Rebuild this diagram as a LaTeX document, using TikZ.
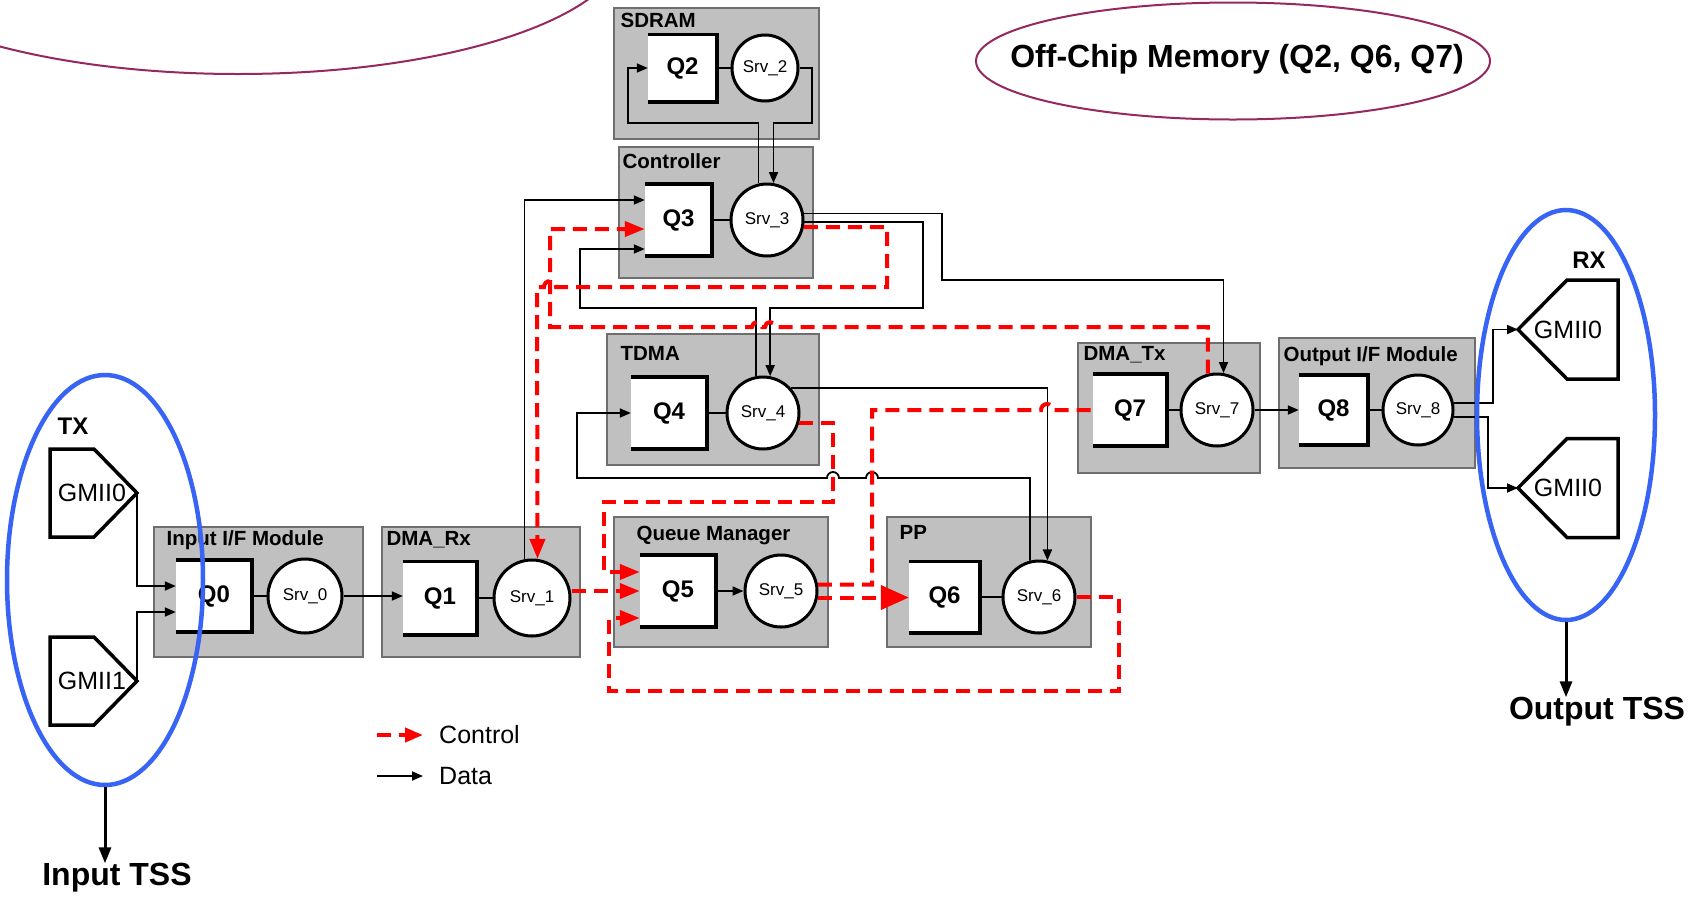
\documentclass[tikz,border=0pt]{standalone}
\usepackage{fontspec}
\setmainfont{Liberation Sans}
\usetikzlibrary{arrows.meta, shapes.geometric, positioning, fit, calc}
\definecolor{zmod}{RGB}{192, 192, 192}
\definecolor{zedge}{RGB}{110, 110, 110}
\definecolor{zctrl}{RGB}{255, 0, 0}
\definecolor{ztss}{RGB}{55, 100, 245}
\definecolor{zmem}{RGB}{150, 40, 95}

\begin{document}
\begin{tikzpicture}[x=1pt, y=-1pt,
  every node/.style={inner sep=0pt},
  module/.style={rectangle, draw=zedge, fill=zmod, line width=1.2pt},
  mlbl/.style={anchor=north west, font=\fontsize{20.5}{24}\selectfont\bfseries},
  queue/.style={rectangle, fill=white, font=\fontsize{24}{28}\selectfont\bfseries},
  qedge/.style={line width=3.6pt},
  server/.style={circle, draw, fill=white, line width=3pt,
                 font=\fontsize{17}{20}\selectfont},
  portedge/.style={draw, fill=white, line width=3.5pt, line join=miter},
  port/.style={font=\fontsize{25}{30}\selectfont},
  link/.style={line width=1.8pt},
  data/.style={line width=1.8pt, -{Triangle[length=11pt, width=9pt]}},
  ctrl/.style={zctrl, line width=4pt, dash pattern=on 14pt off 8pt,
               -{Triangle[length=20pt, width=15pt]}},
  tss/.style={ellipse, draw=ztss, line width=4.5pt},
  tssarr/.style={line width=3pt, -{Triangle[length=16pt, width=12pt]}},
  biglbl/.style={font=\fontsize{32}{38}\selectfont\bfseries},
  portlbl/.style={font=\fontsize{24}{28}\selectfont\bfseries},
  legend/.style={anchor=west, font=\fontsize{25}{30}\selectfont}
]

\fill[white] (0,0) rectangle (1700,898);
\useasboundingbox (0,0) rectangle (1700,898);

% Memory marks
\begin{scope}
  \clip (0,0) rectangle (1700,898);
  \draw[zmem, line width=2pt] (238,-56) ellipse [x radius=387pt, y radius=130pt];
\end{scope}
\node[ellipse, draw=zmem, line width=2pt, minimum width=514, minimum height=117] (offchip) at (1233,61) {};
\node[biglbl] (offchiplbl) at (1237,59) {Off-Chip Memory (Q2, Q6, Q7)};

% Modules
\node[module, fit={(614,8) (819,139)}] (sdram) {};
\node[module, fit={(619,147) (813,278)}] (ctl) {};
\node[module, fit={(607,334) (819,465)}] (tdma) {};
\node[module, fit={(1078,343) (1260,473)}] (dmatx) {};
\node[module, fit={(1279,338) (1475,468)}] (outif) {};
\node[module, fit={(887,517) (1091,647)}] (pp) {};
\node[module, fit={(614,517) (828,647)}] (qm) {};
\node[module, fit={(382,527) (580,657)}] (dmarx) {};
\node[module, fit={(154,527) (363,657)}] (inif) {};

\node[mlbl] (sdramlbl) at ($(sdram.north west)+(7,6)$) {SDRAM};
\node[mlbl] (ctllbl)   at ($(ctl.north west)+(4,7)$) {Controller};
\node[mlbl] (tdmalbl)  at ($(tdma.north west)+(14,13)$) {TDMA};
\node[mlbl] (dmatxlbl) at ($(dmatx.north west)+(6,4)$) {DMA\_Tx};
\node[mlbl] (outiflbl) at ($(outif.north west)+(5,9)$) {Output I/F Module};
\node[mlbl] (pplbl)    at ($(pp.north west)+(13,9)$) {PP};
\node[mlbl] (qmlbl)    at ($(qm.north west)+(23,10)$) {Queue Manager};
\node[mlbl] (dmarxlbl) at ($(dmarx.north west)+(5,4.5)$) {DMA\_Rx};
\node[mlbl] (iniflbl)  at ($(inif.north west)+(13,4.5)$) {Input I/F Module};

% Queues
\node[queue, minimum width=76, minimum height=72] (q0) at (214,596) {Q0};
\node[queue, minimum width=74, minimum height=73] (q1) at (440,598) {Q1};
\node[queue, minimum width=69, minimum height=67] (q2) at (682.5,68) {Q2};
\node[queue, minimum width=67, minimum height=72] (q3) at (678.5,220) {Q3};
\node[queue, minimum width=76, minimum height=72] (q4) at (669,413) {Q4};
\node[queue, minimum width=76, minimum height=72] (q5) at (678,591) {Q5};
\node[queue, minimum width=71, minimum height=71] (q6) at (944.5,597) {Q6};
\node[queue, minimum width=74, minimum height=72] (q7) at (1130,410) {Q7};
\node[queue, minimum width=69, minimum height=70] (q8) at (1333.5,410) {Q8};
\foreach \q in {q0,q1,q2,q3,q4,q5,q6,q7,q8}
  \draw[qedge] (\q.north west) -| (\q.south east) -- (\q.south west);

% Servers
\node[server, minimum size=74] (s0) at (305,596) {Srv\_0};
\node[server, minimum size=76] (s1) at (532,598) {Srv\_1};
\node[server, minimum size=66] (s2) at (765,68) {Srv\_2};
\node[server, minimum size=72] (s3) at (767,220) {Srv\_3};
\node[server, minimum size=72] (s4) at (763,413) {Srv\_4};
\node[server, minimum size=72] (s5) at (781,591) {Srv\_5};
\node[server, minimum size=72] (s6) at (1039,597) {Srv\_6};
\node[server, minimum size=72] (s7) at (1217,410) {Srv\_7};
\node[server, minimum size=70] (s8) at (1418,410) {Srv\_8};

% Ports
\path[portedge] (50,449) -- (94,449) -- (137,493) coordinate (tx0tip) -- (94,537) -- (50,537) -- cycle;
\path[portedge] (50,637) -- (94,637) -- (137,681) coordinate (tx1tip) -- (94,725) -- (50,725) -- cycle;
\path[portedge] (1618,280) -- (1567,280) -- (1518,329.5) coordinate (rx0tip) -- (1567,379) -- (1618,379) -- cycle;
\path[portedge] (1618,438.5) -- (1567,438.5) -- (1518,488) coordinate (rx1tip) -- (1567,537.5) -- (1618,537.5) -- cycle;
\node[port] (tx0) at (92,493) {GMII0};
\node[port] (tx1) at (92,681) {GMII1};
\node[port] (rx0) at (1568,329.5) {GMII0};
\node[port] (rx1) at (1568,488) {GMII0};
\node[portlbl] (txlbl) at (73,426) {TX};
\node[portlbl] (rxlbl) at (1589,260) {RX};

% Data paths
\draw[data] (tx0tip) |- ($(q0.west)+(0,-10)$);
\draw[data] (tx1tip) |- ($(q0.west)+(0,16)$);
\draw[link] (q0) -- (s0);
\draw[data] (s0.east) -- (s0.east -| q1.west);
\draw[link] (q1) -- (s1);
\draw[data] (s1.101) |- ($(q3.west)+(0,-20)$);
\draw[link] (q2) -- (s2);
\draw[data] (s2.east) -| (812,123) -| (s3.80);
\draw[data] (s3.103) |- (628,123) |- (q2.west);
\draw[link] (q3) -- (s3);
\draw[data] (s3.10) -| (942,280) -| (s7.80);
\draw[data] (s3.-3) -| (923,308) -| (s4.79);
\draw[link] (q4) -- (s4);
\draw[data] (s4.101) |- (580,308) |- ($(q3.west)+(0,29)$);
\draw[data] (s4.42) -| (s6.77);
\draw[data] (s6.104) |- (878,478) arc[start angle=0, end angle=180, radius=6pt]
  -- (839,478) arc[start angle=0, end angle=180, radius=6pt]
  -- (577,478) |- (q4.west);
\draw[data] (q5) -- (s5);
\draw[link] (q6) -- (s6);
\draw[link] (q7) -- (s7);
\draw[data] (s7) -- (q8);
\draw[link] (q8) -- (s8);
\draw[data] (s8.11) -| ($(rx0tip)+(-25,0)$) -- (rx0tip);
\draw[data] (s8.-11) -| ($(rx1tip)+(-30,0)$) -- (rx1tip);

% Control paths
\draw[ctrl] (s1.east |- q5.west) -- (q5.west);
\draw[ctrl] (s4.-16) -| (833,502) -| (604,572) -- ($(q5.west)+(0,-19)$);
\draw[ctrl] (s6.east) -| (1119,691) -| (609,618) -- ($(q5.west)+(0,27)$);
\draw[ctrl, -] (s5.10) -| (872,410) -- (1041,410)
  arc[start angle=180, end angle=0, radius=6pt] -- (q7.west);
\draw[ctrl, -{Triangle[length=28pt, width=24pt]}] (s5.-10) -- (s5.-10 -| q6.west);
\draw[ctrl] (s3.-11) -| (887,287) -- (556,287)
  arc[start angle=0, end angle=180, radius=6pt] -- (537,287) -- (s1.82);
\draw[ctrl] (s7.104) |- (775,327) arc[start angle=0, end angle=180, radius=5pt]
  -- (762,327) arc[start angle=0, end angle=180, radius=5pt]
  -- (550,327) |- ($(q3.west)+(0,9)$);

% Legend
\node[legend] (lgctrl) at (439,735) {Control};
\node[legend] (lgdata) at (439,776) {Data};
\draw[ctrl, -{Triangle[length=18pt, width=14pt]}] ($(lgctrl.west)+(-62,0)$) -- ($(lgctrl.west)+(-16,0)$);
\draw[data] ($(lgdata.west)+(-62,0)$) -- ($(lgdata.west)+(-16,0)$);

% Test sub-systems
\node[tss, minimum width=196, minimum height=410] (tssin) at (105,580) {};
\node[tss, minimum width=178, minimum height=410] (tssout) at (1566,415) {};
\node[biglbl] (inlbl) at (117,878) {Input TSS};
\node[biglbl] (outlbl) at (1597,712) {Output TSS};
\draw[tssarr] (tssin.south) -- (tssin.south |- inlbl.north);
\draw[tssarr] (tssout.south) -- (tssout.south |- outlbl.north);

\end{tikzpicture}
\end{document}
